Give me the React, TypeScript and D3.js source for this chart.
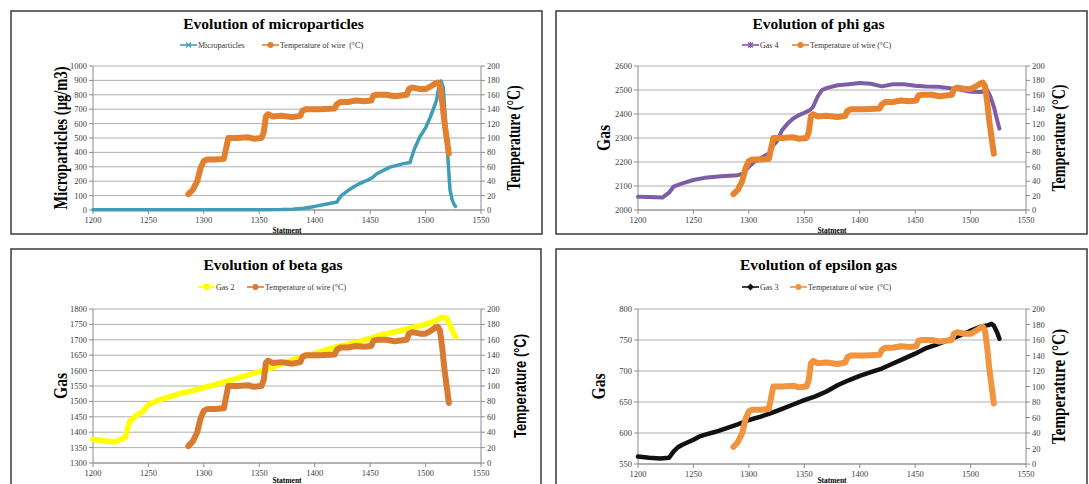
import React from "react";
import * as d3 from "d3";

type Pt = [number, number];

// axis ticks
const statementTicks = [1200, 1250, 1300, 1350, 1400, 1450, 1500, 1550];
const temperatureTicks = [0, 20, 40, 60, 80, 100, 120, 140, 160, 180, 200];
const microTicks = [0, 100, 200, 300, 400, 500, 600, 700, 800, 900, 1000];
const phiTicks = [2000, 2100, 2200, 2300, 2400, 2500, 2600];
const betaTicks = [1300, 1350, 1400, 1450, 1500, 1550, 1600, 1650, 1700, 1750, 1800];
const epsilonTicks = [550, 600, 650, 700, 750, 800];

// temperature of wire (°C), same run in all four charts
const temperatureWire: Pt[] = [
  [1286, 22], [1290, 28], [1294, 40], [1297, 58], [1300, 68], [1303, 70],
  [1310, 70], [1318, 71], [1320, 85], [1322, 100], [1330, 100], [1340, 101],
  [1345, 99], [1352, 100], [1354, 108], [1356, 130], [1358, 133], [1362, 130],
  [1370, 131], [1380, 129], [1387, 131], [1389, 138], [1392, 140], [1405, 140],
  [1418, 141], [1420, 147], [1423, 150], [1430, 150], [1437, 152], [1445, 151],
  [1451, 152], [1453, 159], [1456, 160], [1465, 160], [1472, 158], [1483, 160],
  [1485, 168], [1488, 170], [1495, 168], [1500, 168], [1505, 172], [1509, 176],
  [1511, 177], [1513, 172], [1515, 150], [1517, 122], [1519, 100], [1521, 78],
];

const microparticles: Pt[] = [
  [1200, 2], [1250, 2], [1300, 2], [1350, 2], [1370, 3], [1380, 6], [1390, 12],
  [1400, 25], [1410, 40], [1420, 55], [1422, 80], [1424, 100], [1430, 135],
  [1436, 165], [1441, 185], [1447, 205], [1452, 225], [1456, 252], [1462, 275],
  [1468, 298], [1474, 310], [1480, 322], [1486, 330], [1488, 380], [1490, 425],
  [1495, 510], [1500, 570], [1504, 640], [1507, 700], [1510, 765], [1512, 860],
  [1514, 895], [1516, 850], [1518, 620], [1520, 380], [1521, 260], [1522, 140],
  [1524, 70], [1526, 35], [1527, 25],
];

const gas4: Pt[] = [
  [1200, 2055], [1210, 2054], [1222, 2052], [1228, 2072], [1232, 2097],
  [1240, 2111], [1250, 2125], [1260, 2134], [1275, 2141], [1290, 2145],
  [1295, 2152], [1300, 2180], [1305, 2201], [1310, 2215], [1318, 2235],
  [1322, 2270], [1325, 2284], [1330, 2333], [1335, 2360], [1340, 2381],
  [1345, 2395], [1350, 2405], [1355, 2416], [1358, 2430], [1362, 2472],
  [1366, 2500], [1370, 2508], [1380, 2520], [1390, 2524], [1400, 2529],
  [1410, 2526], [1420, 2515], [1430, 2524], [1440, 2524], [1450, 2518],
  [1460, 2515], [1470, 2514], [1480, 2508], [1490, 2502], [1500, 2493],
  [1510, 2492], [1515, 2499], [1518, 2471], [1521, 2430], [1524, 2374],
  [1526, 2339],
];

const gas2: Pt[] = [
  [1200, 1376], [1210, 1372], [1220, 1368], [1225, 1376], [1229, 1383],
  [1231, 1408], [1233, 1435], [1240, 1457], [1245, 1467], [1250, 1489],
  [1260, 1505], [1270, 1516], [1280, 1527], [1290, 1535], [1300, 1545],
  [1310, 1554], [1320, 1565], [1330, 1575], [1340, 1586], [1350, 1597],
  [1360, 1608], [1370, 1621], [1380, 1635], [1390, 1646], [1400, 1656],
  [1420, 1678], [1440, 1694], [1460, 1716], [1480, 1732], [1500, 1750],
  [1510, 1764], [1515, 1773], [1519, 1770], [1522, 1748], [1525, 1724],
  [1527, 1710],
];

const gas3: Pt[] = [
  [1200, 562], [1210, 560], [1220, 559], [1228, 560], [1232, 570], [1236, 577],
  [1240, 581], [1250, 589], [1255, 594], [1260, 597], [1270, 602], [1280, 608],
  [1290, 614], [1300, 621], [1310, 626], [1320, 632], [1330, 639], [1340, 646],
  [1350, 653], [1360, 659], [1370, 667], [1380, 677], [1390, 685], [1400, 692],
  [1410, 698], [1420, 704], [1430, 712], [1440, 720], [1450, 728], [1460, 737],
  [1470, 743], [1480, 750], [1490, 757], [1500, 765], [1510, 772], [1516, 774],
  [1519, 776], [1521, 773], [1524, 762], [1526, 752],
];

const serif = "'Times New Roman', 'Liberation Serif', serif";
const sans = "'Liberation Sans', Arial, sans-serif";

type Marker = "cross" | "circle" | "square" | "diamond" | "star";

function LegendMarker({ kind, x, y, color }: { kind: Marker; x: number; y: number; color: string }) {
  if (kind === "circle") return <circle cx={x} cy={y} r={3} fill={color} />;
  if (kind === "square") return <rect x={x - 3} y={y - 3} width={6} height={6} fill={color} />;
  if (kind === "diamond")
    return <path d={`M${x},${y - 3.5}L${x + 3.5},${y}L${x},${y + 3.5}L${x - 3.5},${y}Z`} fill={color} />;
  const d = `M${x - 2.5},${y - 2.5}L${x + 2.5},${y + 2.5}M${x - 2.5},${y + 2.5}L${x + 2.5},${y - 2.5}`;
  return (
    <path
      d={kind === "star" ? d + `M${x},${y - 3}L${x},${y + 3}` : d}
      stroke={color}
      strokeWidth={1.2}
      fill="none"
    />
  );
}

interface PanelProps {
  box: [number, number, number, number];
  plot: [number, number, number, number]; // left, top, right, bottom
  title: string;
  titleY: number;
  legendX: [number, number];
  legendY: number;
  seriesName: string;
  tempName: string;
  series: Pt[];
  seriesColor: string;
  seriesWidth: number;
  marker: Marker;
  tempColor: string;
  leftTicks: number[];
  leftLabel: string;
  leftLabelX: number;
  leftLabelLen: number;
  rightLabelX: number;
  rightLabelLen: number;
  rightLabelFont: string;
  xTitleY: number;
}

function Panel(p: PanelProps) {
  const [bx, by, bw, bh] = p.box;
  const [l, t, r, b] = p.plot;
  const x = d3.scaleLinear().domain([1200, 1550]).range([l, r]);
  const yL = d3
    .scaleLinear()
    .domain([p.leftTicks[0], p.leftTicks[p.leftTicks.length - 1]])
    .range([b, t]);
  const yR = d3.scaleLinear().domain([0, 200]).range([b, t]);
  const seriesLine = d3
    .line<Pt>()
    .x((d) => x(d[0]))
    .y((d) => yL(d[1]));
  const tempLine = d3
    .line<Pt>()
    .x((d) => x(d[0]))
    .y((d) => yR(d[1]));
  const midY = (t + b) / 2;
  const midX = (l + r) / 2;
  const grid = "#a6a6a6";
  const axis = "#8c8c8c";
  const tickText = "#404040";

  return (
    <g>
      <rect x={bx} y={by} width={bw} height={bh} fill="#fff" stroke="#3a3a3a" strokeWidth={1.5} />
      <text
        x={bx + bw / 2 - 3}
        y={p.titleY}
        textAnchor="middle"
        fontFamily={serif}
        fontWeight="bold"
        fontSize={15.5}
      >
        {p.title}
      </text>

      {/* legend */}
      <g fontFamily={serif} fontSize={8} fill="#333">
        <line x1={p.legendX[0]} x2={p.legendX[0] + 17} y1={p.legendY} y2={p.legendY} stroke={p.seriesColor} strokeWidth={1.6} />
        <LegendMarker kind={p.marker} x={p.legendX[0] + 8.5} y={p.legendY} color={p.seriesColor} />
        <text x={p.legendX[0] + 18} y={p.legendY + 2.8}>{p.seriesName}</text>
        <line x1={p.legendX[1]} x2={p.legendX[1] + 17} y1={p.legendY} y2={p.legendY} stroke={p.tempColor} strokeWidth={1.6} />
        <LegendMarker kind="circle" x={p.legendX[1] + 8.5} y={p.legendY} color={p.tempColor} />
        <text x={p.legendX[1] + 18} y={p.legendY + 2.8} style={{ whiteSpace: "pre" }}>{p.tempName}</text>
      </g>

      {/* grid */}
      {p.leftTicks.map((v) => (
        <line key={"g" + v} x1={l} x2={r} y1={yL(v)} y2={yL(v)} stroke={grid} strokeWidth={0.9} />
      ))}
      <line x1={l} x2={l} y1={t} y2={b} stroke={axis} />
      <line x1={r} x2={r} y1={t} y2={b} stroke={axis} />
      <line x1={l} x2={r} y1={b} y2={b} stroke={axis} />

      {/* left ticks */}
      <g fontFamily={serif} fontSize={8.5} fill={tickText} textAnchor="end">
        {p.leftTicks.map((v) => (
          <g key={"l" + v}>
            <line x1={l - 4} x2={l} y1={yL(v)} y2={yL(v)} stroke={axis} />
            <text x={l - 6} y={yL(v) + 3}>{v}</text>
          </g>
        ))}
      </g>
      {/* right ticks */}
      <g fontFamily={serif} fontSize={8.5} fill={tickText}>
        {temperatureTicks.map((v) => (
          <g key={"r" + v}>
            <line x1={r} x2={r + 4} y1={yR(v)} y2={yR(v)} stroke={axis} />
            <text x={r + 6} y={yR(v) + 3}>{v}</text>
          </g>
        ))}
      </g>
      {/* bottom ticks */}
      <g fontFamily={serif} fontSize={8.5} fill={tickText} textAnchor="middle">
        {statementTicks.map((v) => (
          <g key={"b" + v}>
            <line x1={x(v)} x2={x(v)} y1={b} y2={b + 4} stroke={axis} />
            <text x={x(v)} y={b + 13}>{v}</text>
          </g>
        ))}
      </g>
      <text x={midX} y={p.xTitleY} textAnchor="middle" fontFamily={serif} fontWeight="bold" fontSize={7.5}>
        Statment
      </text>

      {/* axis titles */}
      <text
        transform={`translate(${p.leftLabelX},${midY}) rotate(-90)`}
        textAnchor="middle"
        dy="0.35em"
        fontFamily={serif}
        fontWeight="bold"
        fontSize={18.5}
        textLength={p.leftLabelLen}
        lengthAdjust="spacingAndGlyphs"
      >
        {p.leftLabel}
      </text>
      <text
        transform={`translate(${p.rightLabelX},${midY}) rotate(-90)`}
        textAnchor="middle"
        dy="0.35em"
        fontFamily={p.rightLabelFont}
        fontWeight="bold"
        fontSize={p.rightLabelFont === sans ? 16 : 18}
        textLength={p.rightLabelLen}
        lengthAdjust="spacingAndGlyphs"
      >
        Temperature (°C)
      </text>

      {/* series */}
      <path
        d={seriesLine(p.series) ?? ""}
        fill="none"
        stroke={p.seriesColor}
        strokeWidth={p.seriesWidth}
        strokeLinejoin="round"
        strokeLinecap="round"
      />
      <path
        d={tempLine(temperatureWire) ?? ""}
        fill="none"
        stroke={p.tempColor}
        strokeWidth={6}
        strokeLinejoin="round"
        strokeLinecap="round"
      />
    </g>
  );
}

export default function App() {
  return (
    <svg width={1089} height={484} style={{ position: "absolute", left: 0, top: 0, background: "#fff" }}>
      <Panel
        box={[11, 11, 531, 223]}
        plot={[93, 66, 481, 210]}
        title="Evolution of microparticles"
        titleY={29}
        legendX={[180, 262]}
        legendY={45}
        seriesName="Microparticles"
        tempName="Temperature of wire  (°C)"
        series={microparticles}
        seriesColor="#3f9db6"
        seriesWidth={3.5}
        marker="cross"
        tempColor="#e3802f"
        leftTicks={microTicks}
        leftLabel="Microparticles (µg/m3)"
        leftLabelX={61}
        leftLabelLen={143}
        rightLabelX={514}
        rightLabelLen={105}
        rightLabelFont={serif}
        xTitleY={232.5}
      />
      <Panel
        box={[556, 11, 531, 223]}
        plot={[638, 66, 1026, 210]}
        title="Evolution of phi gas"
        titleY={29}
        legendX={[742, 792]}
        legendY={45}
        seriesName="Gas 4"
        tempName="Temperature of wire (°C)"
        series={gas4}
        seriesColor="#7d5ea6"
        seriesWidth={4}
        marker="star"
        tempColor="#e8842f"
        leftTicks={phiTicks}
        leftLabel="Gas"
        leftLabelX={604}
        leftLabelLen={26}
        rightLabelX={1059}
        rightLabelLen={107}
        rightLabelFont={serif}
        xTitleY={232.5}
      />
      <Panel
        box={[11, 249, 530, 250]}
        plot={[93, 309, 481, 463]}
        title="Evolution of beta gas"
        titleY={270}
        legendX={[198, 247]}
        legendY={287}
        seriesName="Gas 2"
        tempName="Temperature of wire (°C)"
        series={gas2}
        seriesColor="#ffff00"
        seriesWidth={5.5}
        marker="square"
        tempColor="#d97a31"
        leftTicks={betaTicks}
        leftLabel="Gas"
        leftLabelX={61}
        leftLabelLen={26}
        rightLabelX={520}
        rightLabelLen={104}
        rightLabelFont={sans}
        xTitleY={483}
      />
      <Panel
        box={[556, 249, 531, 250]}
        plot={[638, 309, 1026, 464]}
        title="Evolution of epsilon gas"
        titleY={270}
        legendX={[742, 790]}
        legendY={287}
        seriesName="Gas 3"
        tempName="Temperature of wire  (°C)"
        series={gas3}
        seriesColor="#111111"
        seriesWidth={4.5}
        marker="diamond"
        tempColor="#f0943f"
        leftTicks={epsilonTicks}
        leftLabel="Gas"
        leftLabelX={599}
        leftLabelLen={26}
        rightLabelX={1059}
        rightLabelLen={115}
        rightLabelFont={serif}
        xTitleY={483}
      />
    </svg>
  );
}
